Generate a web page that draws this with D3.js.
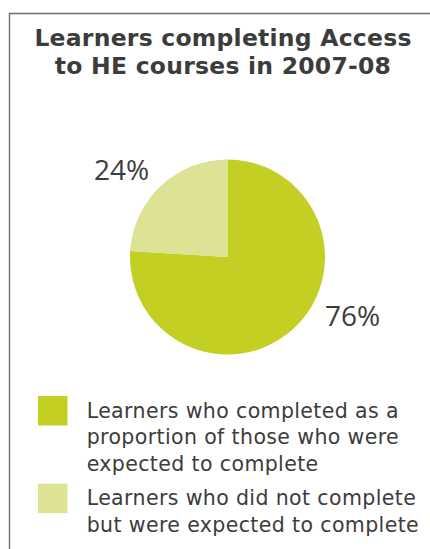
<!DOCTYPE html>
<html>
<head>
<meta charset="utf-8">
<script src="https://cdn.jsdelivr.net/npm/d3@7"></script>
<style>
  html, body { margin: 0; padding: 0; background: #fff; }
  svg { display: block; }
</style>
</head>
<body>
<svg id="chart" width="430" height="549"></svg>
<script>
const titleLines = ["Learners completing Access", "to HE courses in 2007-08"];
const categories = ["Completed", "Did not complete"];
const values = [76, 24];
const valueLabels = ["76%", "24%"];
const legendLines = [
  ["Learners who completed as a", "proportion of those who were", "expected to complete"],
  ["Learners who did not complete", "but were expected to complete"],
];
const colors = ["#c3cf23", "#dde294"];

const textColor = "#3c3c3c";
const textFont = "'DejaVu Sans', sans-serif";
const labelFont = "'Open Sans', sans-serif";

const svg = d3.select("#chart");

// frame (open on right and bottom, like the cropped panel)
svg.append("path")
  .attr("d", "M9.5,549V13.5H430")
  .attr("fill", "none")
  .attr("stroke", "#6e6e6e")
  .attr("stroke-width", 1.4);

// measure a string at 100px
function measure(str, weight) {
  const t = svg.append("text")
    .attr("font-family", textFont)
    .attr("font-weight", weight)
    .attr("font-size", 100)
    .text(str);
  const w = t.node().getComputedTextLength();
  t.remove();
  return w;
}

// font size kept under the line height, letter spacing makes up the width
function fit(str, target, weight, size) {
  const w = measure(str, weight);
  const s = Math.min(size, 100 * target / w);
  const spacing = (target - w * s / 100) / (str.length - 1);
  return { size: s, spacing: Math.max(0, spacing) };
}

// title
const titleLH = 28;
const tf = fit(titleLines[0], 377, 700, 23.5);
svg.append("g")
  .selectAll("text")
  .data(titleLines)
  .join("text")
  .attr("x", 223)
  .attr("y", (d, i) => 46 + i * titleLH)
  .attr("text-anchor", "middle")
  .attr("font-family", textFont)
  .attr("font-weight", 700)
  .attr("font-size", tf.size)
  .attr("letter-spacing", tf.spacing)
  .attr("fill", textColor)
  .text((d) => d);

// pie
const cx = 227.5, cy = 257, r = 97.5;
const pie = d3.pie().sort(null).value((d) => d.value);
const arcs = pie(categories.map((c, i) => ({ name: c, value: values[i], label: valueLabels[i] })));
const arc = d3.arc().innerRadius(0).outerRadius(r);

const g = svg.append("g").attr("transform", `translate(${cx},${cy})`);
g.selectAll("path")
  .data(arcs)
  .join("path")
  .attr("d", arc)
  .attr("fill", (d, i) => colors[i]);

const labelR = 138;
const labelAngle = (d) => d.startAngle + 0.42 * (d.endAngle - d.startAngle);
g.selectAll("text")
  .data(arcs)
  .join("text")
  .attr("x", (d) => labelR * Math.sin(labelAngle(d)))
  .attr("y", (d) => -labelR * Math.cos(labelAngle(d)))
  .attr("text-anchor", "middle")
  .attr("dominant-baseline", "central")
  .attr("font-family", labelFont)
  .attr("font-size", 28)
  .attr("fill", textColor)
  .text((d) => d.data.label);

// legend
const lineH = 26.4;
const lf = fit(legendLines[1][1], 332, 400, 20.5);
const blockTops = [0, 87.6];
const legend = svg.append("g").attr("transform", "translate(38,396)");
const items = legend.selectAll("g")
  .data(legendLines)
  .join("g")
  .attr("transform", (d, i) => `translate(0,${blockTops[i]})`);

items.append("rect")
  .attr("width", 29.5)
  .attr("height", 29.5)
  .attr("fill", (d, i) => colors[i]);

items.selectAll("text")
  .data((d) => d)
  .join("text")
  .attr("x", 48.7)
  .attr("y", (d, j) => 21.7 + j * lineH)
  .attr("font-family", textFont)
  .attr("font-size", lf.size)
  .attr("letter-spacing", lf.spacing)
  .attr("fill", textColor)
  .text((d) => d);
</script>
</body>
</html>
